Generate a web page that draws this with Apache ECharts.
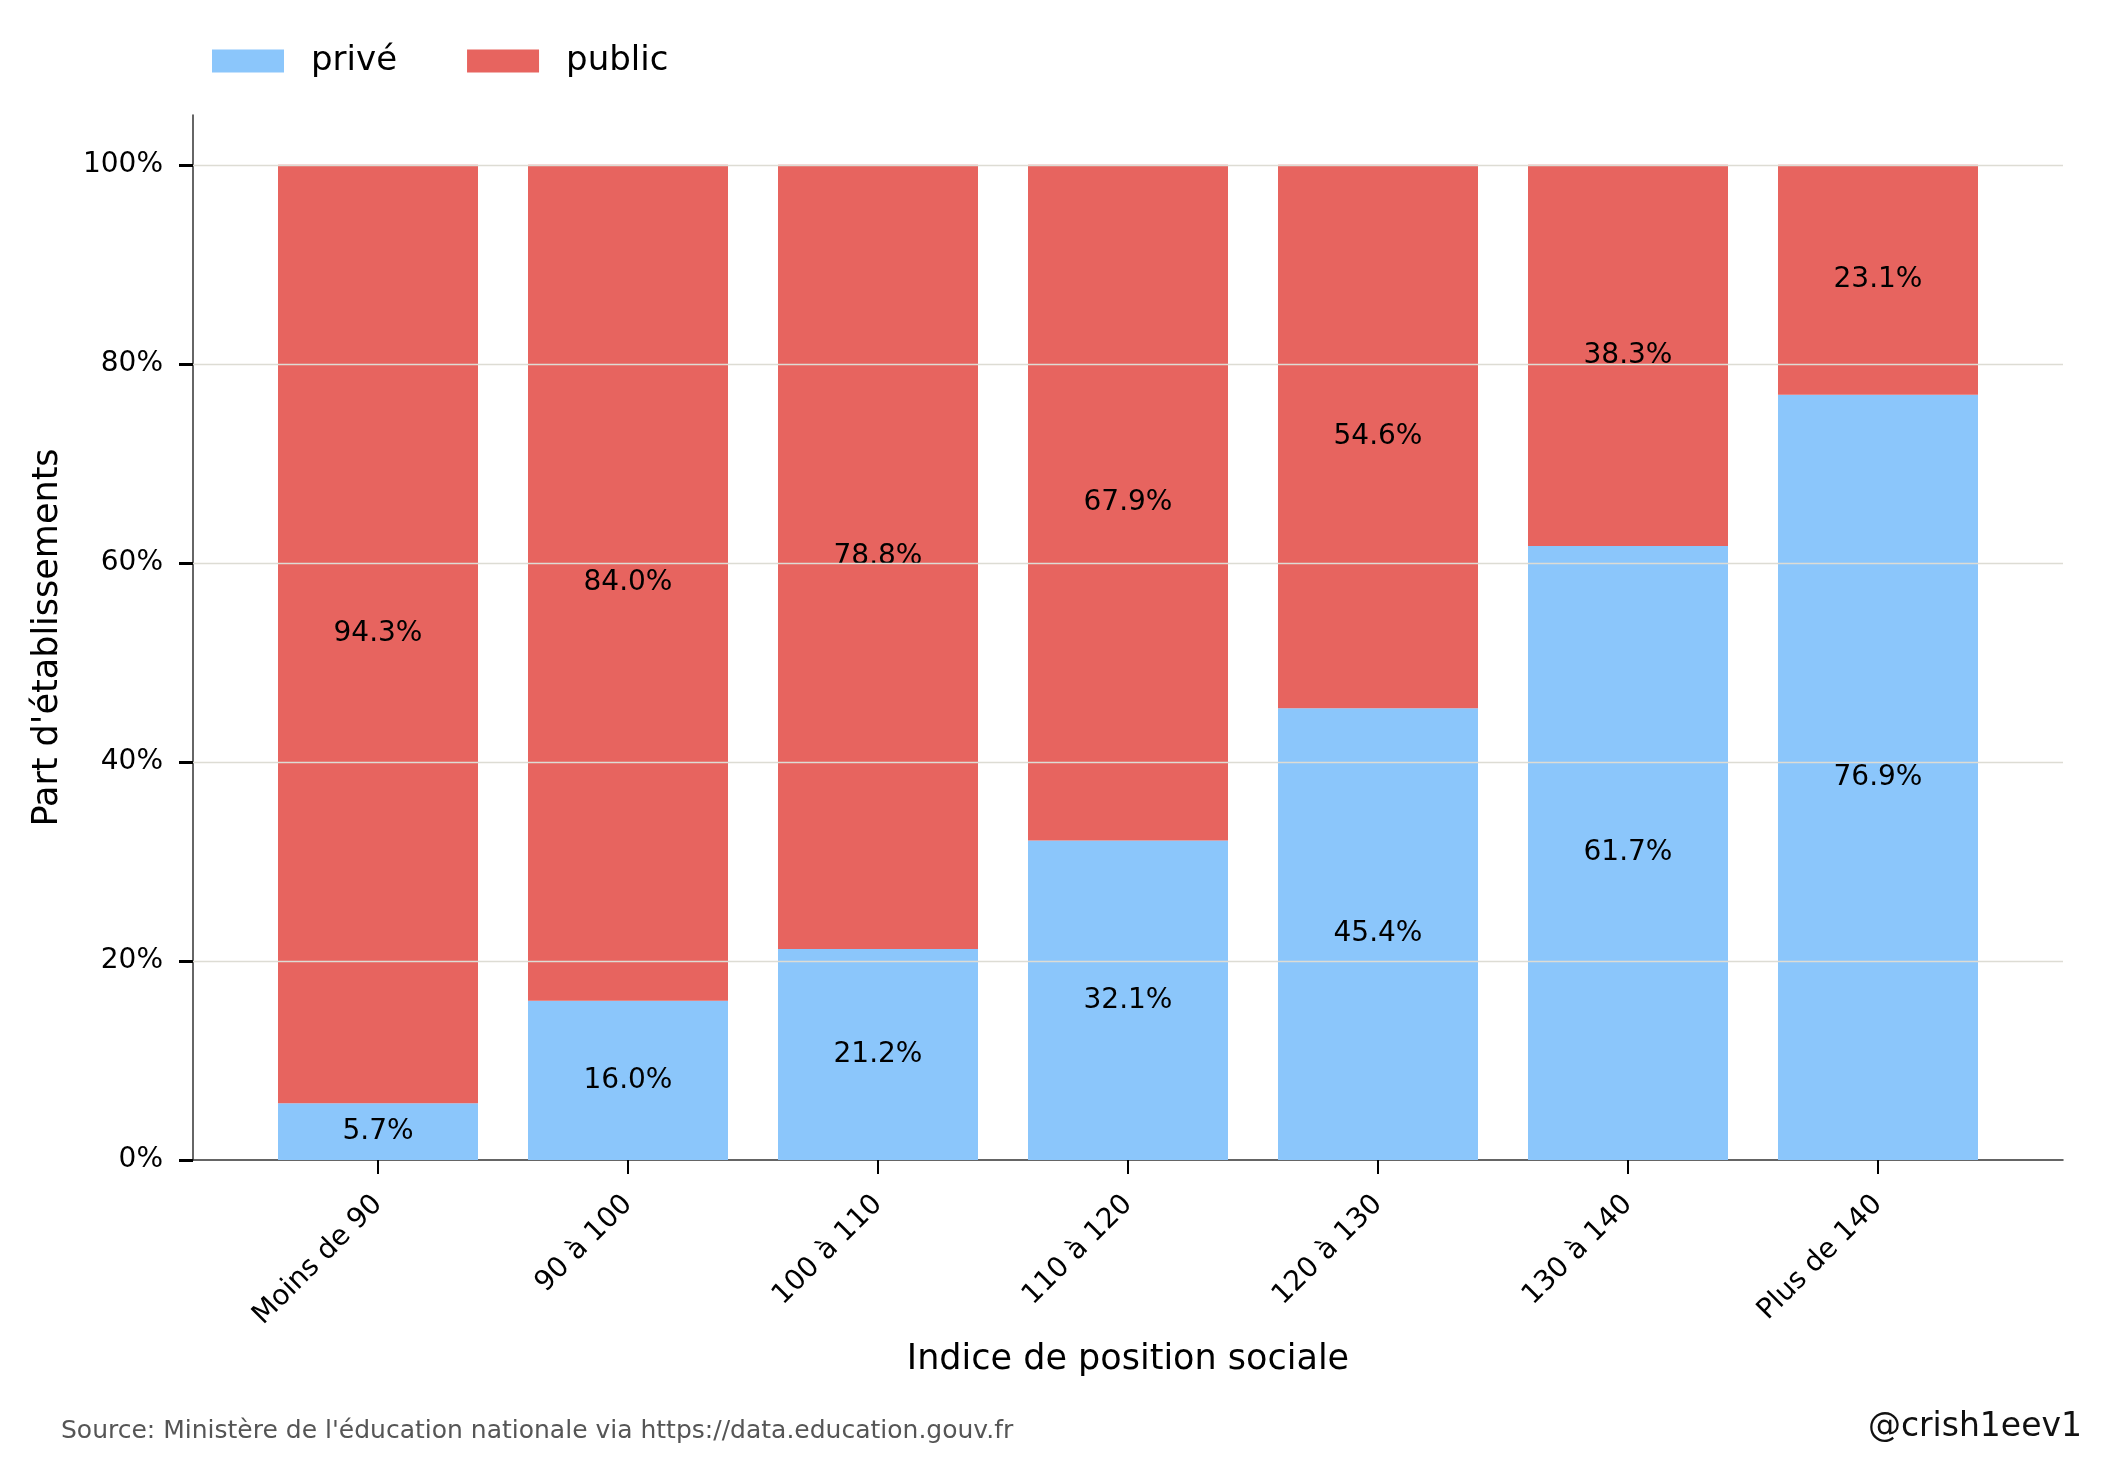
<!DOCTYPE html>
<html>
<head>
<meta charset="utf-8">
<script src="https://cdn.jsdelivr.net/npm/echarts@6/dist/echarts.min.js"></script>
<style>
  html, body { margin: 0; padding: 0; background: #fff; }
  #chart { width: 2106px; height: 1474px; }
</style>
</head>
<body>
<div id="chart"></div>
<script>
// Part d'établissements privé / public par indice de position sociale
var categories = ['Moins de 90', '90 à 100', '100 à 110', '110 à 120', '120 à 130', '130 à 140', 'Plus de 140'];
var prive = [5.7, 16.0, 21.2, 32.1, 45.4, 61.7, 76.9];
var publicPart = [94.3, 84.0, 78.8, 67.9, 54.6, 38.3, 23.1];
var yTicks = [0, 20, 40, 60, 80, 100];

(function() {
  var myChart = echarts.init(document.getElementById('chart'));
  var font = 'DejaVu Sans';
  var idx = categories.map(function(c, i) { return i; });

  // [valeur, position] : la valeur en premier pour que l'empilement se fasse sur y
  function pairs(arr) {
    return arr.map(function(v, i) { return [v, i]; });
  }

  var barLabel = {
    show: true,
    position: 'inside',
    color: '#000',
    fontFamily: font,
    fontSize: 28,
    formatter: function(p) { return p.value[0].toFixed(1) + '%'; }
  };

  var option = {
    animation: false,
    color: ['#8bc6fb', '#e7645f'],
    textStyle: { fontFamily: font },
    legend: {
      left: 207,
      top: 39,
      icon: 'rect',
      itemWidth: 72,
      itemHeight: 23,
      itemGap: 70,
      textStyle: { fontSize: 34, color: '#000', fontFamily: font, padding: [0, 0, 0, 22] },
      data: ['privé', 'public']
    },
    grid: { left: 193, right: 43, top: 115, bottom: 314 },
    xAxis: {
      type: 'value',
      min: -0.74,
      max: 6.74,
      name: 'Indice de position sociale',
      nameLocation: 'middle',
      nameGap: 182,
      nameTextStyle: { fontSize: 35, color: '#000', fontFamily: font },
      axisLine: { show: true, onZero: false, lineStyle: { color: '#333', width: 1.5 } },
      axisTick: { show: true, customValues: idx, length: 14, lineStyle: { color: '#000', width: 2 } },
      axisLabel: {
        customValues: idx,
        rotate: 45,
        margin: 40,
        fontSize: 28,
        color: '#000',
        fontFamily: font,
        formatter: function(v) { return categories[Math.round(v)]; }
      },
      splitLine: { show: false }
    },
    yAxis: {
      type: 'value',
      min: 0,
      max: 105,
      name: "Part d'établissements",
      nameLocation: 'middle',
      nameGap: 128,
      nameTextStyle: { fontSize: 35, color: '#000', fontFamily: font },
      axisLine: { show: true, onZero: false, lineStyle: { color: '#333', width: 1.5 } },
      axisTick: { show: true, customValues: yTicks, length: 14, lineStyle: { color: '#000', width: 3 } },
      axisLabel: {
        customValues: yTicks,
        margin: 30,
        fontSize: 28,
        color: '#000',
        fontFamily: font,
        formatter: function(v) { return v + '%'; }
      },
      splitLine: { show: false }
    },
    graphic: [
      {
        type: 'text',
        left: 61,
        top: 1419,
        style: { text: "Source: Ministère de l'éducation nationale via https://data.education.gouv.fr", fontSize: 25, fontFamily: font, fill: '#555' }
      },
      {
        type: 'text',
        right: 24,
        top: 1411,
        style: { text: '@crish1eev1', fontSize: 33, fontFamily: font, fill: '#111' }
      }
    ],
    series: [
      {
        name: 'privé',
        type: 'bar',
        stack: 'total',
        barWidth: 200,
        encode: { x: 1, y: 0 },
        data: pairs(prive),
        label: barLabel
      },
      {
        name: 'public',
        type: 'bar',
        stack: 'total',
        barWidth: 200,
        encode: { x: 1, y: 0 },
        data: pairs(publicPart),
        label: barLabel,
        // grille dessinée au-dessus des barres
        markLine: {
          silent: true,
          symbol: ['none', 'none'],
          label: { show: false },
          lineStyle: { color: '#dddcd4', width: 1.3, type: 'solid' },
          data: yTicks.slice(1).map(function(v) { return { yAxis: v }; })
        }
      }
    ]
  };

  myChart.setOption(option);
})();
</script>
</body>
</html>
